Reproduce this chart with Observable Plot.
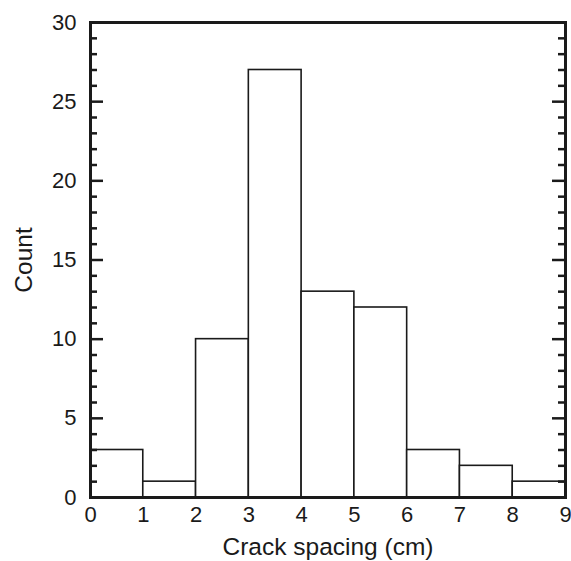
<!DOCTYPE html>
<html>
<head>
<meta charset="utf-8">
<script src="https://cdn.jsdelivr.net/npm/d3@7"></script>
<script src="https://cdn.jsdelivr.net/npm/@observablehq/plot@0.6"></script>
<style>
  html, body { margin: 0; padding: 0; background: #fff; }
  svg { font-family: "Liberation Sans", Arial, Helvetica, sans-serif; }
</style>
</head>
<body>
<div id="chart"></div>
<script>
const binStart = [0, 1, 2, 3, 4, 5, 6, 7, 8];
const binEnd   = [1, 2, 3, 4, 5, 6, 7, 8, 9];
const counts   = [3, 1, 10, 27, 13, 12, 3, 2, 1];
const xTicks = [0, 1, 2, 3, 4, 5, 6, 7, 8, 9];
const yMajor = [0, 5, 10, 15, 20, 25, 30];
const yMinor = d3.range(0, 31).filter(v => v % 5 !== 0);

const bins = binStart.map((s, i) => ({x1: s, x2: binEnd[i], y: counts[i]}));

const W = 571, H = 561;
const mL = 90, mR = 6, mT = 22, mB = 64;
const pxPerX = (W - mL - mR) / 9;
const majLen = 13 / pxPerX, minLen = 7 / pxPerX;
const ink = "#1a1a1a";

const plot = Plot.plot({
  width: W, height: H,
  marginLeft: mL, marginRight: mR, marginTop: mT, marginBottom: mB,
  style: {fontFamily: '"Liberation Sans", Arial, Helvetica, sans-serif', fontSize: "22px", color: ink, background: "#fff"},
  x: {domain: [0, 9], ticks: xTicks, tickSize: 0, tickPadding: 9, label: null},
  y: {domain: [0, 30], ticks: yMajor, tickSize: 0, tickPadding: 14, label: null},
  marks: [
    Plot.rectY(bins, {x1: "x1", x2: "x2", y: "y", fill: "white", stroke: ink, strokeWidth: 1.6}),
    Plot.ruleY(yMajor, {x1: 0, x2: majLen, stroke: ink, strokeWidth: 2.5}),
    Plot.ruleY(yMinor, {x1: 0, x2: minLen, stroke: ink, strokeWidth: 2.5}),
    Plot.ruleY(yMajor, {x1: 9 - majLen, x2: 9, stroke: ink, strokeWidth: 2.5}),
    Plot.ruleY(yMinor, {x1: 9 - minLen, x2: 9, stroke: ink, strokeWidth: 2.5}),
    Plot.frame({stroke: ink, strokeWidth: 3}),
    Plot.text(["Count"], {frameAnchor: "left", rotate: -90, dx: -66, textAnchor: "middle", lineAnchor: "middle", fontSize: 24.5, fill: ink}),
    Plot.text(["Crack spacing (cm)"], {frameAnchor: "bottom", dy: 50, textAnchor: "middle", lineAnchor: "middle", fontSize: 24.5, fill: ink})
  ]
});
document.getElementById("chart").appendChild(plot);
</script>
</body>
</html>
